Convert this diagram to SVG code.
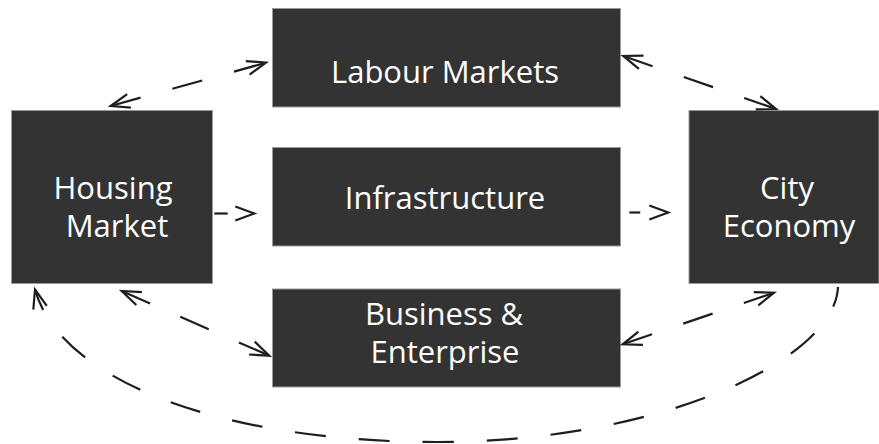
<svg xmlns="http://www.w3.org/2000/svg" width="879" height="444" viewBox="0 0 879 444">
  <style>
    .box { fill: #333333; stroke: #9a9a9a; stroke-width: 1; }
    .lbl { font-family: "Open Sans", Lato, "Liberation Sans", sans-serif; font-size: 31px; font-weight: 400; fill: #ffffff; text-anchor: middle; }
    .con { fill: none; stroke: #1e1e1e; stroke-width: 2.2; stroke-dasharray: 31 33; }
  </style>
  <defs>
    <marker id="arr" markerUnits="userSpaceOnUse" viewBox="-22 -10 24 20" refX="0" refY="0" markerWidth="24" markerHeight="20" orient="auto-start-reverse" overflow="visible">
      <path d="M-19,-7 L0,0 L-19,7" fill="none" stroke="#1e1e1e" stroke-width="2.2" stroke-linejoin="miter"/>
    </marker>
  </defs>
  <rect width="879" height="444" fill="#ffffff"/>

  <g id="labour-markets">
    <rect class="box" x="272.5" y="8.5" width="348" height="98.5"/>
    <text class="lbl" x="445" y="83">Labour Markets</text>
  </g>
  <g id="housing-market">
    <rect class="box" x="11.5" y="110.5" width="201" height="173"/>
    <text class="lbl" x="113" y="199">Housing</text>
    <text class="lbl" x="117" y="237">Market</text>
  </g>
  <g id="infrastructure">
    <rect class="box" x="272.5" y="147.5" width="348" height="98.5"/>
    <text class="lbl" x="445" y="209">Infrastructure</text>
  </g>
  <g id="business-enterprise">
    <rect class="box" x="272.5" y="289" width="348" height="98"/>
    <text class="lbl" x="444" y="325">Business &amp;</text>
    <text class="lbl" x="445" y="363">Enterprise</text>
  </g>
  <g id="city-economy">
    <rect class="box" x="689" y="110.5" width="190" height="173"/>
    <text class="lbl" x="787" y="199">City</text>
    <text class="lbl" x="789" y="237">Economy</text>
  </g>

  <g id="connectors">
    <path class="con" d="M110.7,106 L266,62.7" marker-start="url(#arr)" marker-end="url(#arr)"/>
    <path class="con" d="M623.3,56 L776,109" marker-start="url(#arr)" marker-end="url(#arr)"/>
    <path class="con" d="M121.7,291 L269.3,355.7" marker-start="url(#arr)" marker-end="url(#arr)"/>
    <path class="con" d="M622.7,344.3 L774,292.7" marker-start="url(#arr)" marker-end="url(#arr)"/>
    <path class="con" d="M214.3,213.5 L254.3,213.5" style="stroke-dasharray: 13.4 60" marker-end="url(#arr)"/>
    <path class="con" d="M629.3,212.5 L668.3,212.5" style="stroke-dasharray: 11 60" marker-end="url(#arr)"/>
    <path class="con" d="M35,289.5 C60,380 220,442 437,442 C660,442 835,360 838,287" style="stroke-dashoffset: 9" marker-start="url(#arr)"/>
  </g>
</svg>
